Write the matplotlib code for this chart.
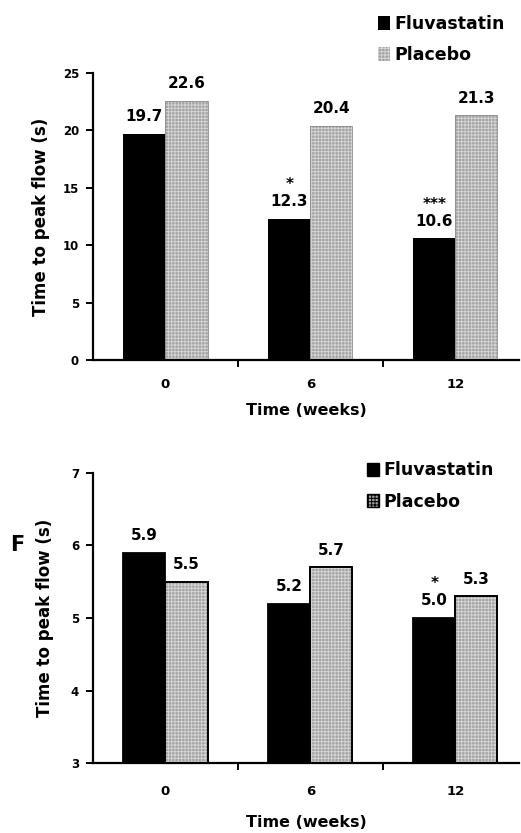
import numpy as np
import matplotlib
matplotlib.use('Agg')
import matplotlib.pyplot as plt
from matplotlib.patches import Patch

plt.rcParams['font.family'] = ['DejaVu Sans']
plt.rcParams['font.weight'] = 'bold'
plt.rcParams['hatch.linewidth'] = 0.7

weeks = ['0', '6', '12']
top_fluva = [19.7, 12.3, 10.6]
top_placebo = [22.6, 20.4, 21.3]
top_stars = ['', '*', '***']
bot_fluva = [5.9, 5.2, 5.0]
bot_placebo = [5.5, 5.7, 5.3]
bot_stars = ['', '', '*']

fig = plt.figure(figsize=(5.21, 8.33), dpi=100)
ax1 = fig.add_axes([0.1785, 0.5678, 0.818, 0.3446])
ax2 = fig.add_axes([0.1785, 0.0840, 0.818, 0.3482])

x = np.arange(len(weeks))
w = 0.29
grey = '#a2a2a2'
hatch_col = '#d4d4d4'


def draw(ax, fluva, placebo, stars, ylo, yhi, step, edged, xpad, ylab_x, xlab_y):
    fluva = np.array(fluva)
    placebo = np.array(placebo)
    ax.bar(x - w / 2, fluva - ylo, w, bottom=ylo, color='black',
           edgecolor='black' if edged else 'none', linewidth=1.3)
    # placebo: grey with dotted texture
    ax.bar(x + w / 2, placebo - ylo, w, bottom=ylo, color=grey,
           edgecolor=hatch_col, hatch='+++++', linewidth=0)
    ax.bar(x + w / 2, placebo - ylo, w, bottom=ylo, fill=False,
           edgecolor='black' if edged else '#8a8a8a',
           linewidth=1.4 if edged else 0.6)
    off = (yhi - ylo) * 0.033
    for i in range(len(x)):
        ax.text(x[i] - w / 2, fluva[i] + off, f'{fluva[i]:.1f}', ha='center',
                va='bottom', fontsize=11, fontweight='bold')
        ax.text(x[i] + w / 2, placebo[i] + off, f'{placebo[i]:.1f}', ha='center',
                va='bottom', fontsize=11, fontweight='bold')
        if stars[i]:
            ax.text(x[i] - w / 2, fluva[i] + off + (yhi - ylo) * 0.06, stars[i],
                    ha='center', va='bottom', fontsize=11, fontweight='bold')
    ax.set_xlim(-0.5, 2.44)
    ax.set_ylim(ylo, yhi)
    ax.set_yticks(np.arange(ylo, yhi + 0.01, step))
    ax.set_xticks(x)
    ax.set_xticklabels(weeks)
    ax.set_xticks([0.5, 1.5], minor=True)
    ax.tick_params(axis='x', which='major', length=0, pad=xpad, labelsize=9.5)
    ax.tick_params(axis='x', which='minor', length=5, width=1.4, direction='out')
    ax.tick_params(axis='y', length=5, width=1.4, direction='out', labelsize=8.5, pad=5)
    for s in ['top', 'right']:
        ax.spines[s].set_visible(False)
    for s in ['left', 'bottom']:
        ax.spines[s].set_linewidth(1.6)
    ax.set_xlabel('Time (weeks)', fontsize=11.5, fontweight='bold')
    ax.set_ylabel('Time to peak flow (s)', fontsize=12, fontweight='bold')
    ax.xaxis.set_label_coords(0.5, xlab_y)
    ax.yaxis.set_label_coords(ylab_x, 0.5)


draw(ax1, top_fluva, top_placebo, top_stars, 0, 25, 5, False, 13, -0.101, -0.15)
draw(ax2, bot_fluva, bot_placebo, bot_stars, 3, 7, 1, True, 16, -0.092, -0.18)

handles_top = [Patch(facecolor='black', edgecolor='none'),
               Patch(facecolor=grey, edgecolor=hatch_col, hatch='+++++', linewidth=0)]
handles_bot = [Patch(facecolor='black', edgecolor='black'),
               Patch(facecolor=grey, edgecolor='black', hatch='+++++')]
labels = ['Fluvastatin', 'Placebo']

fig.legend(handles_top, labels, loc='upper left', bbox_to_anchor=(0.726, 0.982),
           frameon=False, prop={'size': 12.5, 'weight': 'bold'}, handlelength=0.7,
           handleheight=0.8, handletextpad=0.25, labelspacing=0.75, borderpad=0,
           borderaxespad=0)
fig.legend(handles_bot, labels, loc='upper left', bbox_to_anchor=(0.704, 0.446),
           frameon=False, prop={'size': 12.5, 'weight': 'bold'}, handlelength=0.7,
           handleheight=0.8, handletextpad=0.25, labelspacing=0.75, borderpad=0,
           borderaxespad=0)

fig.text(0.02, 0.346, 'F', fontsize=15, fontweight='bold', va='center')

fig.savefig('out.png', dpi=100)
